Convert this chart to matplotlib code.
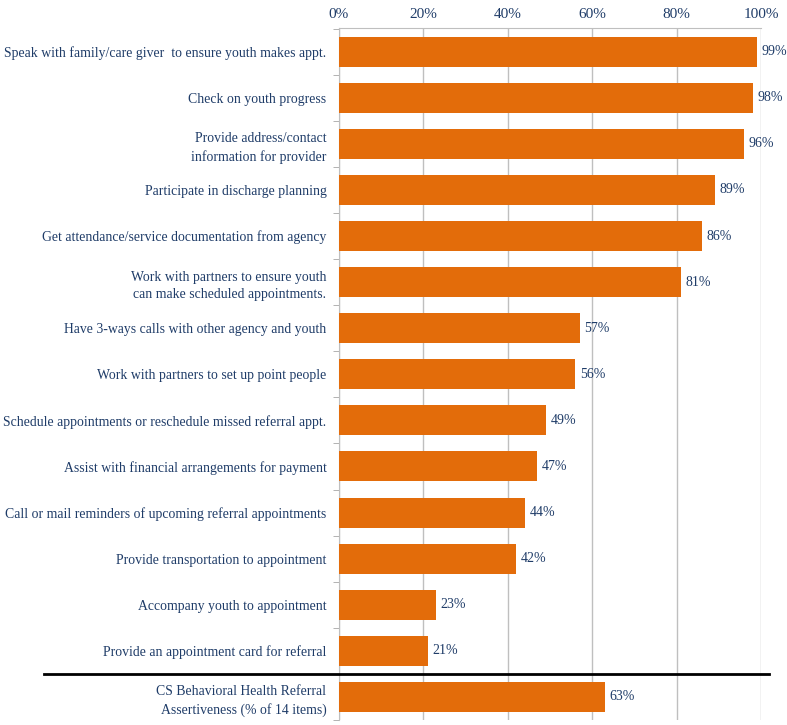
import numpy as np
import matplotlib.pyplot as plt

labels = [
    'Speak with family/care giver  to ensure youth makes appt.',
    'Check on youth progress',
    'Provide address/contact\ninformation for provider',
    'Participate in discharge planning',
    'Get attendance/service documentation from agency',
    'Work with partners to ensure youth\ncan make scheduled appointments.',
    'Have 3-ways calls with other agency and youth',
    'Work with partners to set up point people',
    'Schedule appointments or reschedule missed referral appt.',
    'Assist with financial arrangements for payment',
    'Call or mail reminders of upcoming referral appointments',
    'Provide transportation to appointment',
    'Accompany youth to appointment',
    'Provide an appointment card for referral',
    'CS Behavioral Health Referral\nAssertiveness (% of 14 items)',
]
values = [99, 98, 96, 89, 86, 81, 57, 56, 49, 47, 44, 42, 23, 21, 63]
xticks = [0, 20, 40, 60, 80, 100]

bar_color = '#E36C0A'
text_color = '#1F3C68'
plt.rcParams['font.family'] = ['Liberation Serif', 'DejaVu Serif']

fig = plt.figure(figsize=(7.87, 7.25), dpi=100)
ax = fig.add_axes([0.4307, 0.007, 0.5363, 0.9547])

y = np.arange(len(values))
ax.barh(y, values, height=0.65, color=bar_color, zorder=3)
for yi, v in zip(y, values):
    ax.text(v + 1.1, yi, f'{v}%', va='center', ha='left', color=text_color, fontsize=10)

ax.set_xlim(0, 100)
ax.set_ylim(len(values) - 0.58, -0.52)
ax.xaxis.tick_top()
ax.set_xticks(xticks)
ax.set_xticklabels([f'{t}%' for t in xticks], color=text_color, fontsize=11)
ax.tick_params(axis='x', length=0, pad=5)
ax.grid(axis='x', color='#BFBFBF', linewidth=1, zorder=0)

ax.set_yticks(y)
ax.set_yticklabels(labels, color=text_color, fontsize=9.9, ha='right', linespacing=1.45)
ax.tick_params(axis='y', length=0, pad=9)
ax.set_yticks(np.arange(len(values) + 1) - 0.5, minor=True)
ax.tick_params(axis='y', which='minor', length=4, color='#A6A6A6')

for s in ['right', 'bottom']:
    ax.spines[s].set_visible(False)
for s in ['top', 'left']:
    ax.spines[s].set_color('#BFBFBF')

# separator above the summary row
ax.plot([-70, 102], [13.5, 13.5], color='black', linewidth=2, clip_on=False, zorder=5)

fig.savefig('out.png', dpi=100)
